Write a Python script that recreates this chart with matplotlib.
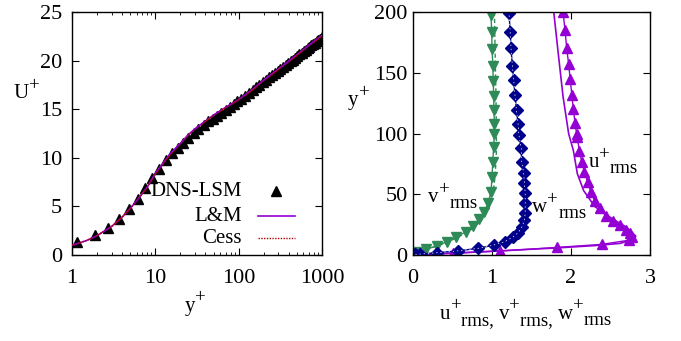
import matplotlib
matplotlib.use("agg")
from matplotlib import pyplot as plt

plt.rcParams["font.family"] = ["Liberation Serif", "DejaVu Serif"]

# left panel: mean velocity
y_dns = [1.15, 1.89, 2.7, 3.67, 4.8, 6.2, 7.5, 9.1, 11.1, 13.4, 15.8, 18.5, 21.5, 25, 29, 33, 38, 43,
         49, 55, 62, 70, 78, 87, 97, 108, 120, 133, 147, 162, 178, 195, 213, 232, 252, 273, 295, 318,
         342, 367, 393, 420, 448, 477, 507, 538, 570, 603, 637, 672, 708, 745, 783, 822, 862, 903,
         945, 990]
U_dns = [1.3, 2.05, 2.8, 3.7, 4.7, 5.75, 6.9, 7.9, 8.85, 9.8, 10.5, 11.05, 11.55, 12.05, 12.55, 12.95,
         13.35, 13.75, 14.05, 14.35, 14.65, 14.95, 15.25, 15.55, 15.85, 16.1, 16.4, 16.7, 17.0, 17.3,
         17.5, 17.8, 18.0, 18.3, 18.5, 18.7, 18.95, 19.15, 19.4, 19.6, 19.8, 19.95, 20.1, 20.3, 20.5,
         20.65, 20.8, 20.95, 21.1, 21.3, 21.4, 21.6, 21.7, 21.85, 22.0, 22.1, 22.25, 22.4]

y_line = [1, 1.5, 2, 3, 4, 5, 6, 7, 8, 10, 12, 15, 20, 25, 30, 40, 50, 70, 100, 150, 200, 300, 400,
          500, 700, 1000]
U_lm = [1.0, 1.5, 2.0, 2.95, 3.9, 4.8, 5.6, 6.35, 7.0, 8.4, 9.3, 10.4, 11.5, 12.4, 13.0, 13.8, 14.4,
        15.2, 16.0, 17.1, 18.0, 19.15, 19.95, 20.6, 21.6, 22.6]
U_cess = [1.0, 1.5, 2.0, 2.95, 3.9, 4.8, 5.6, 6.3, 6.95, 8.3, 9.2, 10.3, 11.4, 12.3, 12.9, 13.75,
          14.35, 15.15, 15.95, 17.0, 17.9, 19.05, 19.85, 20.5, 21.5, 22.5]

# right panel: rms fluctuations
u_dns = [0.02, 0.5, 1.1, 1.82, 2.39, 2.74, 2.77, 2.75, 2.70, 2.62, 2.53, 2.44, 2.37, 2.30, 2.25, 2.21,
         2.17, 2.135, 2.105, 2.08, 2.07, 2.05, 2.03, 2.01, 1.99, 1.97, 1.945, 1.924, 1.90]
yu_dns = [0.1, 1.6, 3.3, 6.3, 8.8, 12.3, 15, 17.8, 21, 24.7, 28, 32, 38.4, 44.7, 52, 60, 68.6, 77, 86,
          97, 100, 109, 120, 132, 144.6, 157, 170.6, 185, 199.7]
u_ref = [0.0, 0.6, 1.1, 1.8, 2.3, 2.62, 2.80, 2.82, 2.70, 2.52, 2.30, 2.16, 2.08, 2.03, 1.97, 1.90,
         1.84, 1.78]
yu_ref = [0.0, 1.8, 3.5, 5.8, 7.8, 9.6, 13, 15.6, 23, 30, 40, 53, 67, 86, 100, 130, 165, 201]

v_dns = [0.0, 0.047, 0.16, 0.30, 0.43, 0.55, 0.67, 0.76, 0.835, 0.90, 0.95, 0.987, 1.00, 1.01, 1.02,
         1.03, 1.03, 1.025, 1.02, 1.016, 1.01, 1.00, 0.996, 0.987]
yv_dns = [1, 2.5, 4.7, 7.4, 11, 15, 19.2, 23.9, 29.4, 35.6, 42.5, 52, 64.5, 77, 89, 100, 108, 119,
          131, 143, 156, 170, 184, 197.5]
v_ref = [0.0, 0.17, 0.45, 0.70, 0.86, 0.96, 1.01, 1.04, 1.055, 1.055, 1.05, 1.04, 1.03]
yv_ref = [0.0, 4.5, 11, 19, 28, 38, 50, 65, 85, 100, 130, 165, 201]

w_dns = [0.03, 0.09, 0.30, 0.57, 0.82, 1.02, 1.16, 1.26, 1.33, 1.38, 1.41, 1.42, 1.42, 1.42, 1.41,
         1.40, 1.375, 1.37, 1.34, 1.33, 1.31, 1.29, 1.275, 1.257, 1.24, 1.23, 1.215]
yw_dns = [0.5, 0.8, 1.9, 3.5, 5.5, 8.2, 11, 14.6, 18.4, 23.3, 28.8, 34.8, 42.5, 50.8, 59, 67.8, 76.8,
          87.8, 98.8, 108, 119, 131.7, 144, 156, 170.6, 184, 199]

purple = "#9400D3"
green = "#2E8B57"
blue = "#00008B"
dred = "#B00000"


def chain_label(ax, x, y, pieces, coords, size=15):
    # gnuplot style labels: superscript and subscript side by side, not stacked
    prev = None
    for text, kind in pieces:
        dy = {"n": 0, "sup": 0.4 * size, "sub": -0.3 * size}[kind]
        fs = size if kind == "n" else size * 0.9
        if prev is None:
            prev = ax.annotate(text, xy=(x, y), xycoords=coords, xytext=(0, dy),
                               textcoords="offset points", fontsize=fs, ha="left",
                               va="baseline", annotation_clip=False)
        else:
            prev = ax.annotate(text, xy=(1, y), xycoords=(prev, coords), xytext=(0, dy),
                               textcoords="offset points", fontsize=fs, ha="left",
                               va="baseline", annotation_clip=False)
    return prev


fig = plt.figure(figsize=(6.81, 3.41), dpi=100)
ax1 = fig.add_axes([0.1057, 0.252, 0.367, 0.7126])
ax2 = fig.add_axes([0.6065, 0.252, 0.348, 0.7126])

# left
ax1.plot(y_dns, U_dns, linestyle="none", marker="^", color="black", markersize=7, zorder=2)
ax1.plot(y_line, U_lm, color=purple, linewidth=1.2, zorder=3)
ax1.plot(y_line, U_cess, color=dred, linewidth=1.0, linestyle=(0, (1, 1)), zorder=4)
ax1.set_xscale("log")
ax1.set_xlim(1, 1000)
ax1.set_ylim(0, 25)
ax1.set_xticks([1, 10, 100, 1000])
ax1.set_xticklabels(["1", "10", "100", "1000"])
ax1.set_yticks([0, 5, 10, 15, 20, 25])
chain_label(ax1, 0.452, -0.23, [("y", "n"), ("+", "sup")], "axes fraction")
chain_label(ax1, -0.232, 0.646, [("U", "n"), ("+", "sup")], "axes fraction")

# legend drawn by hand so the text is right aligned
tr = ax1.transAxes
ax1.text(0.68, 0.26, "DNS-LSM", transform=tr, ha="right", va="center", fontsize=15)
ax1.text(0.68, 0.16, "L&M", transform=tr, ha="right", va="center", fontsize=15)
ax1.text(0.68, 0.07, "Cess", transform=tr, ha="right", va="center", fontsize=15)
ax1.plot([0.816], [0.265], transform=tr, marker="^", color="black", markersize=7, clip_on=False)
ax1.plot([0.744, 0.892], [0.16, 0.16], transform=tr, color=purple, linewidth=1.2)
ax1.plot([0.744, 0.892], [0.07, 0.07], transform=tr, color=dred, linewidth=1.0, linestyle=(0, (1, 1)))

# right
ax2.plot(u_ref, yu_ref, color=purple, linewidth=1.2)
ax2.plot(u_dns, yu_dns, color=purple, linewidth=1.0, marker="^", markersize=6.5)
ax2.plot(v_ref, yv_ref, color=green, linewidth=1.0, linestyle=(0, (3, 2)))
ax2.plot(v_dns, yv_dns, color=green, linewidth=1.0, marker="v", markersize=6.5)
ax2.plot(w_dns, yw_dns, color=blue, linewidth=1.0, marker="D", markersize=6.5)
ax2.plot(w_dns, yw_dns, color="white", linewidth=0.5, linestyle=(0, (2, 4)))
ax2.set_xlim(0, 3)
ax2.set_ylim(0, 200)
ax2.set_xticks([0, 1, 2, 3])
ax2.set_yticks([0, 50, 100, 150, 200])
chain_label(ax2, 0.114, -0.262,
            [("u", "n"), ("+", "sup"), ("rms, ", "sub"), ("v", "n"), ("+", "sup"), ("rms, ", "sub"),
             ("w", "n"), ("+", "sup"), ("rms", "sub")], "axes fraction")
chain_label(ax2, -0.274, 0.617, [("y", "n"), ("+", "sup")], "axes fraction")
chain_label(ax2, 0.19, 43.6, [("v", "n"), ("+", "sup"), ("rms", "sub")], "data")
chain_label(ax2, 1.51, 35.4, [("w", "n"), ("+", "sup"), ("rms", "sub")], "data")
chain_label(ax2, 2.22, 72.4, [("u", "n"), ("+", "sup"), ("rms", "sub")], "data")

for ax in (ax1, ax2):
    ax.tick_params(which="both", direction="in", top=True, right=True, labelsize=16)
    ax.tick_params(axis="x", pad=10)
    ax.tick_params(which="major", length=5)
    ax.tick_params(which="minor", length=2.5)
    for s in ax.spines.values():
        s.set_linewidth(1.0)
ax1.tick_params(axis="y", pad=7)
ax2.tick_params(axis="y", pad=4)

plt.savefig("out.png", dpi=100)
